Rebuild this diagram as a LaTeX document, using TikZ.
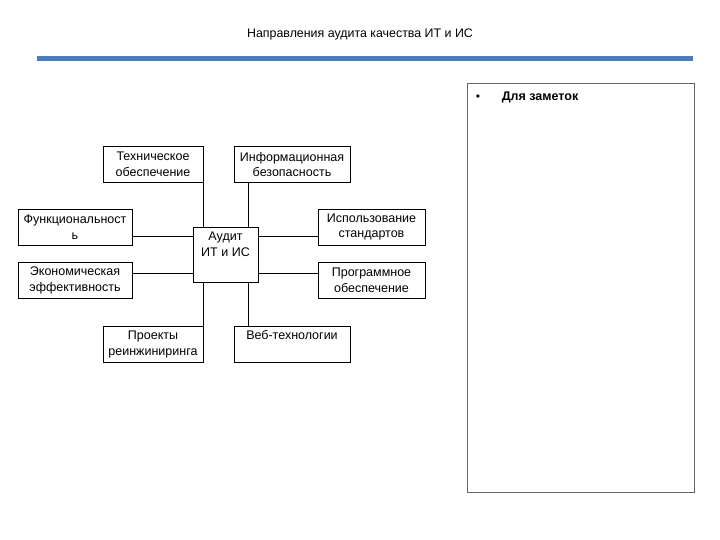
\documentclass[tikz,border=0pt]{standalone}
\usepackage{fontspec}
\setmainfont{Liberation Sans}
\usepackage{xcolor}
\usetikzlibrary{calc, positioning}

\definecolor{polosa}{RGB}{74,126,187}
\definecolor{ramka}{RGB}{95,105,105}

\begin{document}
\begin{tikzpicture}[x=1pt, y=-1pt, line width=0.9pt,
    font=\fontsize{12.5}{15.5}\selectfont,
    blok/.style={draw, align=center, minimum height=36, inner sep=1pt}]
    \useasboundingbox (0,0) rectangle (720,540);

    % Заголовок и полоса
    \node (zagolovok) at (360,34) {\fontsize{12.4}{14}\selectfont Направления аудита качества ИТ и ИС};
    \fill[polosa] (37,56) rectangle (693,61);

    % Поле для заметок
    \node[draw=ramka, line width=1pt, minimum width=227, minimum height=409,
        anchor=north west] (zametki) at (467,83) {};
    \node[anchor=base] (punkt) at (478,101) {\fontsize{12}{14}\selectfont •};
    \node[anchor=base west, font=\fontsize{12.5}{15}\selectfont\bfseries] (zametkitxt) at (498,101) {Для заметок};

    % Блоки схемы
    \node[blok, minimum width=65, minimum height=55] (audit) at (225.5,254.5) {Аудит\\ИТ и ИС\\\strut};
    \node[blok, minimum width=100] (tech) at (153,164.5) {Техническое\\обеспечение};
    \node[blok, minimum width=116] (infbez) at (292,164.5) {Информационная\\безопасность};
    \node[blok, minimum width=114] (funk) at (75,227) {Функциональност\\ь};
    \node[blok, minimum width=107] (standart) at (371.5,227) {Использование\\стандартов};
    \node[blok, minimum width=114] (ekon) at (75,280.5) {Экономическая\\эффективность};
    \node[blok, minimum width=107] (progr) at (371.5,280.5) {Программное\\обеспечение};
    \node[blok, minimum width=100] (reinj) at (153,344.5) {Проекты\\реинжиниринга};
    \node[blok, minimum width=116] (veb) at (292,344.5) {Веб-технологии\\\strut};

    % Точки выхода линий
    \path ([yshift=-10pt]audit.north west) coordinate (l1)
          ([yshift=9pt]audit.south west) coordinate (l2)
          ([yshift=-10pt]audit.north east) coordinate (r1)
          ([yshift=9pt]audit.south east) coordinate (r2)
          ([xshift=-10pt]audit.north east) coordinate (v1)
          ([xshift=-10pt]audit.south east) coordinate (v2);

    % Связи
    \draw (tech.south east) -- (tech.south east |- audit.north);
    \draw (v1) -- (v1 |- infbez.south);
    \draw (l1) -- (l1 -| funk.east);
    \draw (l2) -- (l2 -| ekon.east);
    \draw (r1) -- (r1 -| standart.west);
    \draw (r2) -- (r2 -| progr.west);
    \draw (reinj.north east |- audit.south) -- (reinj.north east);
    \draw (v2) -- (v2 |- veb.north);
\end{tikzpicture}
\end{document}
